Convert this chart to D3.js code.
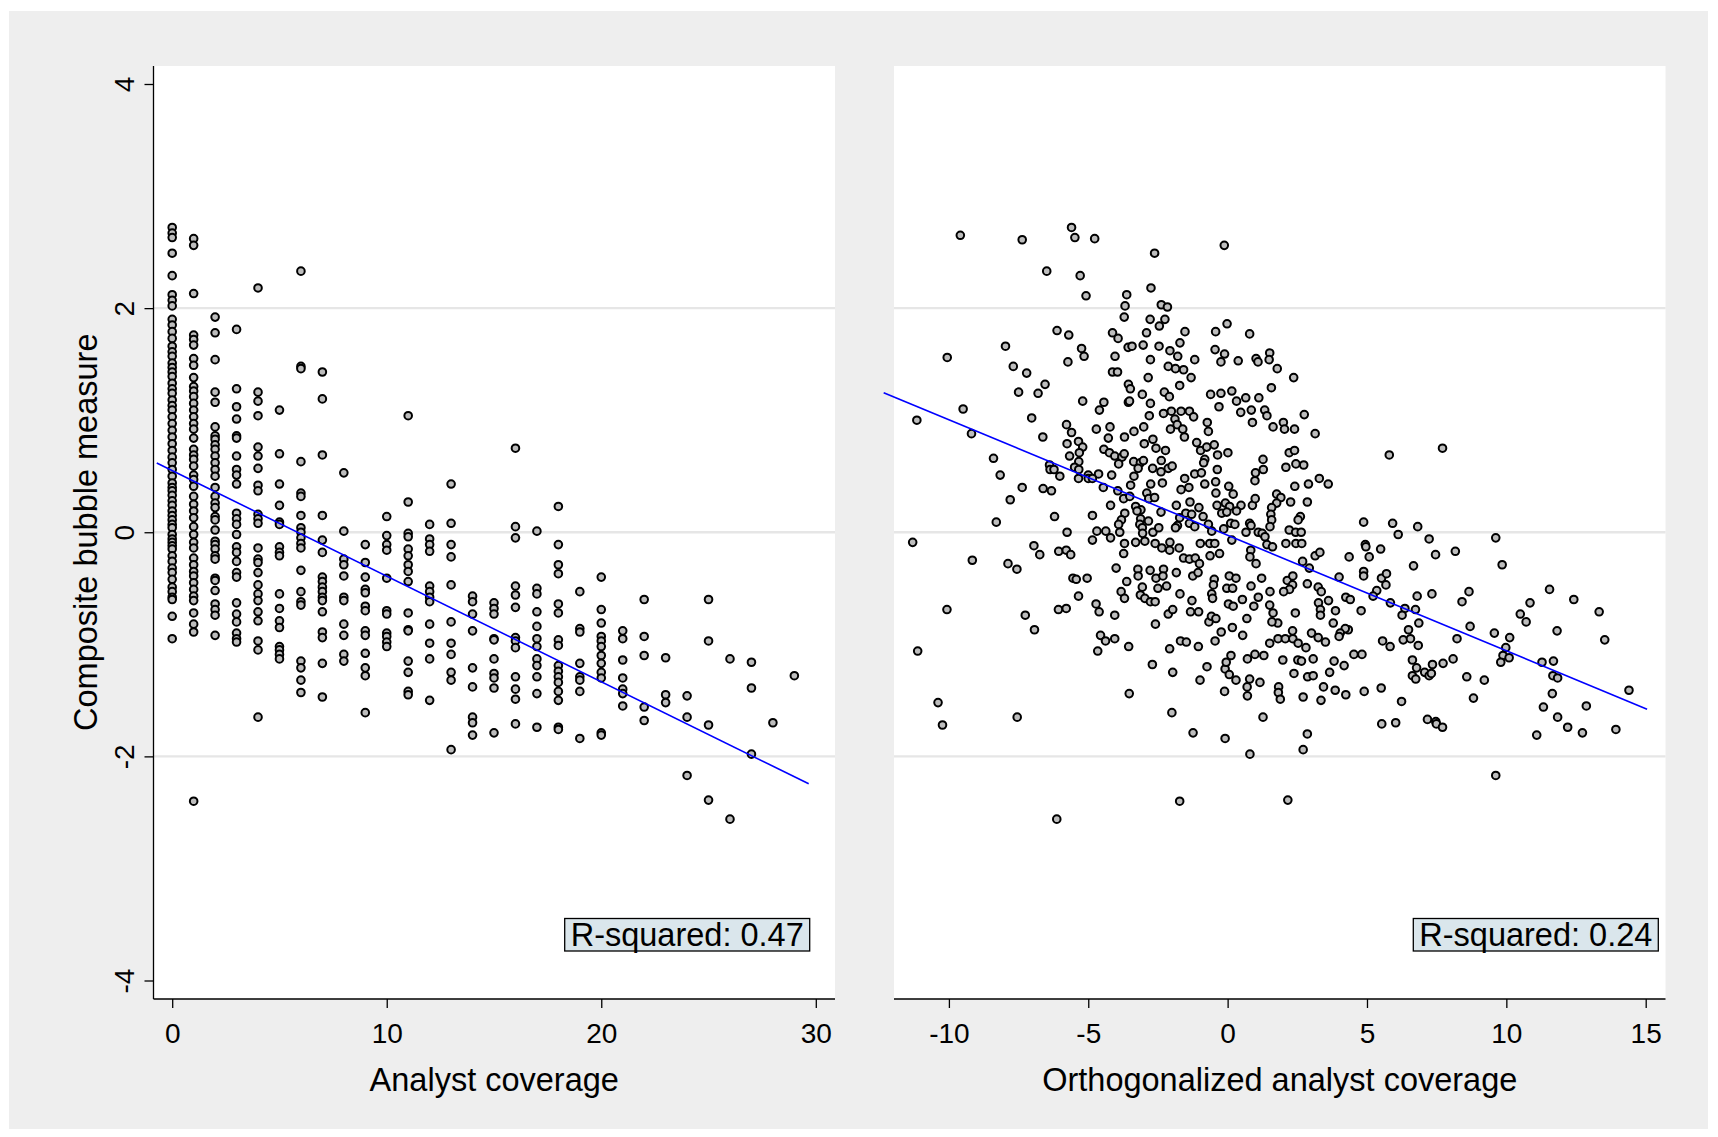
<!DOCTYPE html>
<html>
<head>
<meta charset="utf-8">
<script src="https://cdn.jsdelivr.net/npm/d3@7"></script>
<style>
  body { margin: 0; background: #fff; }
  svg text { font-family: "Liberation Sans", Arial, sans-serif; fill: #000; }
</style>
</head>
<body>
<div id="chart"></div>
<script>
// Left panel: bubble measure for each analyst-coverage count (0..29)
const analystCoverage = [0, 1, 2, 3, 4, 5, 6, 7, 8, 9, 10, 11, 12, 13, 14, 15, 16, 17, 18, 19, 20, 21, 22, 23, 24, 25, 26, 27, 28, 29];
const bubbleByCoverage = [
  [2.72, 2.67, 2.63, 2.49, 2.29, 2.12, 2.07, 2.02, 1.90, 1.85, 1.79, 1.73, 1.66, 1.61, 1.57, 1.51, 1.47, 1.43, 1.39, 1.33, 1.28, 1.24, 1.18, 1.13, 1.09, 1.03, 0.97, 0.91, 0.85, 0.79, 0.73, 0.67, 0.62, 0.56, 0.50, 0.44, 0.40, 0.37, 0.33, 0.28, 0.24, 0.19, 0.15, 0.11, 0.07, 0.04, -0.02, -0.06, -0.09, -0.12, -0.15, -0.21, -0.26, -0.32, -0.36, -0.42, -0.49, -0.53, -0.58, -0.60, -0.75, -0.95],
  [2.62, 2.56, 2.13, 1.76, 1.72, 1.67, 1.55, 1.49, 1.38, 1.30, 1.26, 1.21, 1.15, 1.09, 1.03, 0.97, 0.92, 0.84, 0.74, 0.69, 0.65, 0.59, 0.51, 0.47, 0.41, 0.32, 0.25, 0.19, 0.13, 0.05, -0.02, -0.09, -0.14, -0.23, -0.29, -0.35, -0.39, -0.45, -0.51, -0.57, -0.61, -0.72, -0.82, -0.89, -2.40],
  [1.92, 1.78, 1.54, 1.25, 1.16, 0.94, 0.86, 0.83, 0.78, 0.74, 0.68, 0.62, 0.56, 0.50, 0.40, 0.32, 0.26, 0.22, 0.14, 0.11, 0.02, -0.08, -0.11, -0.15, -0.21, -0.24, -0.41, -0.43, -0.52, -0.64, -0.69, -0.74, -0.92],
  [1.81, 1.28, 1.12, 1.01, 0.86, 0.84, 0.68, 0.56, 0.51, 0.43, 0.17, 0.12, 0.07, -0.02, -0.13, -0.18, -0.26, -0.36, -0.40, -0.63, -0.73, -0.80, -0.90, -0.95, -0.98],
  [2.18, 1.25, 1.17, 1.04, 0.76, 0.68, 0.57, 0.42, 0.37, 0.16, 0.12, 0.08, -0.14, -0.24, -0.27, -0.36, -0.47, -0.55, -0.61, -0.71, -0.79, -0.97, -1.05, -1.65],
  [1.09, 0.70, 0.43, 0.24, 0.09, 0.07, -0.13, -0.18, -0.21, -0.55, -0.68, -0.79, -0.85, -1.02, -1.05, -1.09, -1.13],
  [2.33, 1.48, 1.46, 0.63, 0.35, 0.32, 0.15, 0.04, 0.00, -0.05, -0.10, -0.14, -0.34, -0.53, -0.62, -0.65, -1.15, -1.21, -1.32, -1.43],
  [1.43, 1.19, 0.69, 0.15, -0.07, -0.18, -0.40, -0.44, -0.49, -0.53, -0.58, -0.61, -0.71, -0.89, -0.94, -1.17, -1.47],
  [0.53, 0.01, -0.24, -0.29, -0.39, -0.58, -0.61, -0.82, -0.92, -1.09, -1.15],
  [-0.11, -0.27, -0.40, -0.51, -0.54, -0.66, -0.70, -0.88, -0.92, -1.08, -1.21, -1.28, -1.61],
  [0.14, -0.03, -0.11, -0.16, -0.41, -0.70, -0.73, -0.90, -0.93, -0.98, -1.02],
  [1.04, 0.27, -0.01, -0.04, -0.15, -0.21, -0.29, -0.35, -0.44, -0.72, -0.87, -0.88, -1.15, -1.25, -1.42, -1.45],
  [0.07, -0.06, -0.11, -0.17, -0.48, -0.53, -0.58, -0.62, -0.82, -0.99, -1.13, -1.50],
  [0.43, 0.08, -0.11, -0.22, -0.47, -0.80, -0.99, -1.09, -1.25, -1.32, -1.94],
  [-0.57, -0.62, -0.73, -0.88, -1.21, -1.38, -1.65, -1.70, -1.81],
  [-0.63, -0.68, -0.73, -0.95, -0.96, -1.13, -1.26, -1.30, -1.39, -1.79],
  [0.75, 0.05, -0.05, -0.48, -0.56, -0.67, -0.94, -0.97, -1.03, -1.29, -1.40, -1.49, -1.71],
  [0.01, -0.50, -0.55, -0.71, -0.84, -0.95, -1.02, -1.13, -1.19, -1.29, -1.44, -1.74],
  [0.23, -0.11, -0.29, -0.37, -0.64, -0.72, -0.96, -1.01, -1.19, -1.24, -1.29, -1.34, -1.42, -1.50, -1.74, -1.76],
  [-0.53, -0.86, -0.89, -1.17, -1.29, -1.32, -1.42, -1.84],
  [-0.40, -0.69, -0.81, -0.93, -0.97, -1.02, -1.10, -1.17, -1.25, -1.30, -1.79, -1.81],
  [-0.88, -0.95, -1.14, -1.30, -1.40, -1.44, -1.55],
  [-0.60, -0.93, -1.10, -1.56, -1.68],
  [-1.12, -1.45, -1.52],
  [-1.46, -1.65, -2.17],
  [-0.60, -0.97, -1.72, -2.39],
  [-1.13, -2.56],
  [-1.16, -1.39, -1.98],
  [-1.70],
  [-1.28]
];

// Right panel: [orthogonalized coverage, bubble measure]
const orthoPoints = [
  [-9.59,2.65],[-7.37,2.61],[-5.60,2.72],[-5.48,2.63],[-6.49,2.33],[-5.29,2.29],[-5.08,2.11],[-6.12,1.80],[-5.70,1.76],[-7.97,1.66],[-5.24,1.64],[-5.15,1.57],[-10.06,1.56],[-5.73,1.52],[-7.69,1.48],[-7.21,1.42],[-6.55,1.32],[-7.50,1.25],[-6.80,1.24],[-5.20,1.17],[-9.49,1.10],[-11.15,1.00],[-7.03,1.02],[-5.78,0.96],[-5.60,0.89],[-9.19,0.88],[-6.63,0.85],[-5.35,0.81],[-5.76,0.79],[-5.20,0.76],[-5.32,0.71],[-5.67,0.68],[-5.34,0.63],[-8.40,0.66],[-6.39,0.60],[-5.49,0.58],[-6.37,0.56],[-6.23,0.56],[-5.34,0.56],[-8.16,0.51],[-6.02,0.50],[-5.35,0.48],[-5.00,0.51],[-5.00,0.48],[-7.37,0.40],[-6.62,0.39],[-6.32,0.37],[-7.80,0.29],[-6.21,0.14],[-8.30,0.09],[-5.76,0.00],[-11.30,-0.09],[-6.95,-0.12],[-6.74,-0.20],[-6.06,-0.17],[-5.79,-0.16],[-5.63,-0.20],[-9.16,-0.25],[-7.88,-0.28],[-7.56,-0.33],[-5.55,-0.41],[-5.43,-0.42],[-5.04,-0.41],[-5.35,-0.57],[-10.07,-0.69],[-6.07,-0.69],[-5.79,-0.68],[-7.26,-0.74],[-6.93,-0.87],
  [-11.12,-1.06],[-10.39,-1.52],[-10.23,-1.72],[-7.55,-1.65],[-6.13,-2.56],
  [-4.77,2.62],[-2.62,2.49],[-0.12,2.56],[-2.75,2.18],[-3.62,2.12],[-3.68,2.02],[-2.38,2.03],[-2.16,2.01],[-3.71,1.92],[-2.78,1.90],[-2.25,1.90],[-2.45,1.84],[-1.53,1.79],[-0.43,1.79],[-0.02,1.86],[0.79,1.77],[-4.13,1.78],[-3.93,1.73],[-2.91,1.78],[-3.57,1.65],[-3.43,1.66],[-3.03,1.67],[-2.46,1.66],[-4.04,1.57],[-2.07,1.62],[-1.71,1.69],[-1.79,1.57],[-2.77,1.54],[-0.45,1.63],[-0.11,1.59],[-0.24,1.52],[0.38,1.53],[-1.18,1.54],[1.02,1.55],[1.09,1.52],[1.51,1.60],[1.49,1.54],[1.78,1.46],[-4.13,1.43],[-3.95,1.43],[-2.13,1.48],[-1.87,1.46],[-1.58,1.45],[-2.85,1.38],[-1.31,1.38],[2.37,1.38],[-1.72,1.31],[-3.56,1.32],[-3.49,1.28],[1.57,1.29],[-3.06,1.23],[-2.27,1.25],[-2.09,1.21],[-0.61,1.23],[-0.24,1.24],[0.15,1.26],[0.32,1.17],[0.65,1.20],[-0.31,1.12],[1.12,1.20],[-4.44,1.16],[-4.60,1.09],[-2.77,1.15],[-3.56,1.16],[-3.52,1.17],[-2.81,1.04],[-2.30,1.06],[-2.02,1.08],[-1.67,1.08],[-1.37,1.08],[-1.22,1.03],[-1.89,1.01],[-1.81,0.96],[-2.05,0.92],[-1.61,0.92],[-1.55,0.85],[-0.73,0.98],[-0.69,0.90],[0.47,1.07],[0.85,1.09],[0.89,0.98],[1.33,1.09],[1.41,1.04],[2.00,0.98],[1.63,0.94],[2.04,0.92],[2.40,0.92],[2.75,1.05],[-4.71,0.92],[-4.22,0.94],[-4.28,0.84],[-3.70,0.85],[-3.36,0.90],[-3.01,0.94],[-2.99,0.79],[-2.68,0.83],[-2.57,0.75],[-2.23,0.73],[-1.11,0.80],[-0.97,0.73],[-0.75,0.76],[-0.48,0.78],[0.01,0.71],[-0.36,0.69],[-4.44,0.74],[-4.24,0.71],[-4.05,0.68],[-3.79,0.67],[-3.71,0.70],[-3.91,0.61],[-3.37,0.63],[-3.13,0.62],[-3.02,0.64],[-3.21,0.57],[-2.69,0.57],[-2.38,0.64],[-2.39,0.54],[-2.13,0.57],[-1.99,0.59],[-0.82,0.65],[-0.86,0.62],[-0.37,0.56],[1.27,0.65],[1.28,0.56],[1.00,0.53],[2.21,0.71],[2.40,0.73],[2.09,0.58],[2.45,0.61],[2.73,0.60],[0.98,0.46],[-4.16,0.51],[-4.63,0.52],[-4.85,0.48],[-4.46,0.40],[-3.36,0.50],[-3.48,0.42],[-2.34,0.44],[-2.76,0.43],[-1.54,0.48],[-1.39,0.40],[-1.67,0.38],[-1.18,0.52],[-0.94,0.53],[-0.82,0.43],[-0.43,0.45],[0.04,0.41],[-0.42,0.35],[0.20,0.34],[2.41,0.41],[2.90,0.43],[-3.94,0.37],[-3.73,0.30],[-3.51,0.32],[-4.20,0.24],[-3.30,0.23],[-3.11,0.20],[-2.90,0.35],[-2.83,0.30],[-2.62,0.31],[-1.84,0.24],[-1.35,0.27],[-1.03,0.22],[-0.38,0.24],[-0.08,0.26],[0.07,0.23],[0.48,0.24],[0.89,0.24],[0.99,0.30],[1.76,0.34],[1.91,0.31],[1.76,0.26],[1.58,0.22],[2.26,0.27],[2.86,0.27],[-4.85,0.15],[-3.69,0.17],[-3.25,0.19],[-3.12,0.12],[-2.84,0.10],[-2.39,0.18],[-1.72,0.13],[-1.50,0.17],[-1.29,0.16],[-0.88,0.14],[-1.80,0.06],[-1.37,0.08],[-1.18,0.05],[-0.69,0.07],[-0.21,0.17],[-0.03,0.18],[0.32,0.19],[1.55,0.16],[1.58,0.11],[2.61,0.14],[2.53,0.11],[-3.81,0.11],[-3.91,0.07],[-3.87,0.00],[-3.15,0.07],[-3.06,0.04],[-3.05,-0.01],[-2.68,0.00],[-2.47,0.04],[-1.87,0.04],[-0.57,0.01],[-0.14,0.03],[0.11,0.08],[0.26,0.07],[0.79,0.08],[0.84,0.06],[1.52,0.05],[2.21,0.02],[2.44,0.00],[2.64,0.00],[-4.85,-0.07],[-4.69,0.01],[-4.37,0.01],[-4.20,-0.05],[-3.30,-0.09],[-3.70,-0.10],[-3.73,-0.19],[-2.97,-0.08],[-2.60,-0.10],[-2.36,-0.14],[-2.07,-0.09],[-2.08,-0.16],[-1.74,-0.14],[-0.98,-0.10],[-0.64,-0.10],[-0.46,-0.10],[-0.63,-0.21],[-0.29,-0.19],[0.15,-0.07],[0.66,0.00],[1.10,0.00],[1.24,-0.01],[1.34,-0.04],[1.41,-0.11],[1.61,-0.13],[0.83,-0.16],[0.80,-0.22],[1.02,-0.28],[2.09,-0.10],[2.45,-0.10],[2.66,-0.10],[2.69,-0.26],[2.93,-0.32],[-4.00,-0.32],[-3.62,-0.44],[-3.22,-0.33],[-3.21,-0.39],[-2.78,-0.34],[-2.57,-0.41],[-2.30,-0.33],[-2.32,-0.39],[-2.50,-0.50],[-1.84,-0.36],[-1.58,-0.23],[-1.37,-0.24],[-1.16,-0.23],[-1.01,-0.28],[-1.25,-0.39],[-1.06,-0.36],[-0.48,-0.42],[-0.51,-0.47],[0.06,-0.39],[-0.03,-0.50],[0.30,-0.41],[0.18,-0.50],[0.84,-0.48],[1.22,-0.41],[2.14,-0.43],[2.34,-0.39],[2.33,-0.47],[2.22,-0.51],[2.01,-0.53],[2.86,-0.46],[-3.82,-0.53],[-3.70,-0.59],[-3.06,-0.49],[-3.13,-0.56],[-2.97,-0.59],[-2.77,-0.62],[-2.60,-0.62],[-2.19,-0.48],[-1.71,-0.55],[-0.57,-0.55],[-0.54,-0.59],[0.03,-0.64],[0.20,-0.66],[0.53,-0.60],[1.10,-0.58],[1.52,-0.53],[0.94,-0.66],[-4.72,-0.64],[-4.61,-0.71],[-4.05,-0.74],[-2.59,-0.82],[-2.13,-0.73],[-1.97,-0.69],[-1.33,-0.71],[-1.04,-0.71],[-1.28,-0.61],[-0.67,-0.80],[-0.58,-0.75],[-0.42,-0.77],[0.69,-0.77],[1.51,-0.65],[1.63,-0.72],[1.80,-0.81],[2.43,-0.72],
  [-4.56,-0.92],[-4.38,-0.97],[-4.05,-0.95],[-4.66,-1.06],[-3.55,-1.02],[-1.69,-0.97],[-1.48,-0.98],[-2.08,-1.04],[-1.05,-1.02],[-0.23,-0.89],[0.54,-0.92],[-0.45,-0.97],[-2.70,-1.18],[-1.97,-1.25],[-3.53,-1.44],[-2.00,-1.61],[-1.24,-1.79],[-0.09,-1.84],[0.80,-1.98],[-1.72,-2.40],[2.16,-2.39],[-0.74,-1.20],[-0.09,-1.22],[-0.05,-1.16],[0.12,-1.10],[0.06,-1.27],[0.30,-1.32],[0.71,-1.13],[0.98,-1.09],[1.30,-1.10],[-0.99,-1.32],[-0.11,-1.42],[0.70,-1.38],[0.79,-1.31],[1.16,-1.34],[0.71,-1.46],[1.83,-1.38],[1.82,-1.43],[1.89,-1.49],[1.27,-1.65],[1.51,-0.99],[1.81,-0.95],[2.07,-0.95],[2.33,-0.88],[2.34,-0.95],[2.53,-0.99],[2.81,-1.03],[1.98,-1.14],[2.52,-1.14],[2.65,-1.15],[2.38,-1.26],[2.87,-1.29],[2.71,-1.47],[2.86,-1.80],[2.71,-1.94],[0.17,-0.85],[1.59,-0.80],
  [3.14,0.88],[7.71,0.75],[5.80,0.69],[3.29,0.48],[3.61,0.43],[4.88,0.09],[5.92,0.08],[6.82,0.05],[6.12,-0.02],[7.23,-0.06],[9.62,-0.05],[4.94,-0.11],[4.96,-0.13],[5.08,-0.22],[5.49,-0.15],[7.46,-0.20],[8.17,-0.17],[3.14,-0.21],[3.31,-0.18],[4.36,-0.22],[6.67,-0.30],[9.85,-0.29],[4.00,-0.40],[4.88,-0.35],[4.88,-0.39],[5.52,-0.41],[5.70,-0.37],[5.68,-0.47],[3.25,-0.49],[3.36,-0.53],[4.24,-0.58],[4.40,-0.60],[5.35,-0.52],[5.22,-0.57],[5.84,-0.63],[6.80,-0.57],[7.33,-0.55],[8.66,-0.53],[8.41,-0.62],[11.55,-0.51],[12.42,-0.60],[10.85,-0.63],[13.33,-0.71],[3.26,-0.63],[3.62,-0.61],[3.33,-0.69],[3.33,-0.74],[3.87,-0.70],[4.79,-0.70],[6.36,-0.68],[6.74,-0.69],[6.26,-0.74],[10.50,-0.73],[10.71,-0.80],[3.79,-0.81],[6.86,-0.81],[8.70,-0.84],[6.49,-0.87],[4.33,-0.87],[4.22,-0.86],[4.04,-0.90],[4.00,-0.93],[3.01,-0.90],[3.25,-0.94],[3.51,-0.98],[5.56,-0.97],[5.83,-1.02],[6.30,-0.96],[6.56,-0.95],[6.84,-1.01],[8.23,-0.95],[9.57,-0.90],[10.12,-0.94],[9.98,-1.03],[11.82,-0.88],[13.53,-0.96],[3.07,-1.13],[4.53,-1.09],[4.82,-1.09],[3.82,-1.15],[4.18,-1.19],[6.63,-1.14],[6.78,-1.21],[7.35,-1.18],[7.73,-1.17],[8.09,-1.13],[7.07,-1.25],[7.23,-1.28],[7.31,-1.26],[6.63,-1.28],[6.75,-1.31],[9.88,-1.10],[10.10,-1.12],[9.80,-1.16],[11.28,-1.16],[11.69,-1.15],[11.67,-1.28],[11.84,-1.30],[3.66,-1.25],[3.07,-1.28],[8.58,-1.29],[9.21,-1.32],[3.44,-1.38],[3.86,-1.41],[4.24,-1.45],[4.90,-1.42],[5.51,-1.39],[3.35,-1.50],[6.24,-1.51],[8.82,-1.48],[11.65,-1.44],[11.33,-1.56],[12.87,-1.55],[14.40,-1.41],[7.17,-1.67],[7.47,-1.69],[7.49,-1.71],[7.71,-1.74],[5.53,-1.71],[6.03,-1.70],[11.84,-1.65],[12.20,-1.74],[12.73,-1.79],[13.93,-1.76],[11.09,-1.81],[9.62,-2.17]
];

// Axis ticks
const yTicks = [-4, -2, 0, 2, 4];
const gridTicks = [-2, 0, 2];
const leftXTicks = [0, 10, 20, 30];
const rightXTicks = [-10, -5, 0, 5, 10, 15];

// Fitted lines: [intercept, slope] and x-range they are drawn over
const leftFit = [0.55, -0.0942];
const leftFitRange = [-0.72, 29.67];
const rightFit = [-0.027, -0.1031];
const rightFitRange = [-12.34, 15.05];
const rSquaredLabels = ['R-squared: 0.47', 'R-squared: 0.24'];

const width = 1718, height = 1137;
const plotTop = 66, plotBottom = 999;
const fontFamily = '"Liberation Sans", Arial, sans-serif';
// Stata prints a plain hyphen for negatives
const tickFmt = d => String(d);

const svg = d3.select('#chart').append('svg')
    .attr('width', width)
    .attr('height', height);

// gray graph region
svg.append('rect')
    .attr('x', 9).attr('y', 11)
    .attr('width', 1699).attr('height', 1118)
    .attr('fill', '#eeeeee');

const y = d3.scaleLinear().domain([-4, 4]).range([980.5, 84]);

const leftPoints = [];
analystCoverage.forEach((c, i) => {
    bubbleByCoverage[i].forEach(v => leftPoints.push([c, v]));
});

const panels = [
    {
        left: 153.5, right: 835,
        x: d3.scaleLinear().domain([0, 30]).range([172.2, 815.8]),
        ticks: leftXTicks, title: 'Analyst coverage',
        points: leftPoints, fit: leftFit, fitRange: leftFitRange,
        label: rSquaredLabels[0], boxRight: 809.7, yAxis: true
    },
    {
        left: 894, right: 1665.5,
        x: d3.scaleLinear().domain([-10, 15]).range([948.9, 1645.7]),
        ticks: rightXTicks, title: 'Orthogonalized analyst coverage',
        points: orthoPoints, fit: rightFit, fitRange: rightFitRange,
        label: rSquaredLabels[1], boxRight: 1658.3, yAxis: false
    }
];

panels.forEach(p => {
    const g = svg.append('g');

    // white plot region
    g.append('rect')
        .attr('x', p.left).attr('y', plotTop)
        .attr('width', p.right - p.left).attr('height', plotBottom - plotTop)
        .attr('fill', '#fff');

    // horizontal grid lines
    g.selectAll('.grid')
        .data(gridTicks)
        .enter().append('line')
        .attr('x1', p.left).attr('x2', p.right)
        .attr('y1', d => y(d)).attr('y2', d => y(d))
        .attr('stroke', '#e6e6e6')
        .attr('stroke-width', 2.4);

    // x axis
    const xAxis = g.append('g')
        .attr('transform', `translate(0,${plotBottom})`)
        .call(d3.axisBottom(p.x).tickValues(p.ticks).tickFormat(tickFmt)
            .tickSize(9).tickPadding(15).tickSizeOuter(0));
    xAxis.select('.domain').remove();
    xAxis.selectAll('line').attr('stroke', '#000').attr('stroke-width', 1.3);
    xAxis.selectAll('text')
        .attr('font-size', 28)
        .attr('font-family', fontFamily);
    g.append('line')
        .attr('x1', p.left).attr('x2', p.right)
        .attr('y1', plotBottom).attr('y2', plotBottom)
        .attr('stroke', '#000').attr('stroke-width', 1.3);

    g.append('text')
        .attr('x', (p.left + p.right) / 2)
        .attr('y', 1091)
        .attr('text-anchor', 'middle')
        .attr('font-size', 32.5)
        .text(p.title);

    if (p.yAxis) {
        const yAxis = g.append('g')
            .attr('transform', `translate(${p.left},0)`)
            .call(d3.axisLeft(y).tickValues(yTicks).tickFormat(tickFmt)
                .tickSize(9).tickSizeOuter(0));
        yAxis.select('.domain').remove();
        yAxis.selectAll('line').attr('stroke', '#000').attr('stroke-width', 1.3);
        yAxis.selectAll('text')
            .attr('font-size', 28)
            .attr('font-family', fontFamily)
            .attr('x', 0)
            .attr('y', -19.5)
            .attr('dy', 0)
            .attr('text-anchor', 'middle')
            .attr('transform', 'rotate(-90)');
        g.append('line')
            .attr('x1', p.left).attr('x2', p.left)
            .attr('y1', plotTop).attr('y2', plotBottom)
            .attr('stroke', '#000').attr('stroke-width', 1.3);

        g.append('text')
            .attr('transform', `translate(97,${y(0)}) rotate(-90)`)
            .attr('text-anchor', 'middle')
            .attr('font-size', 32.5)
            .text('Composite bubble measure');
    }

    // scatter points
    g.selectAll('.pt')
        .data(p.points)
        .enter().append('circle')
        .attr('cx', d => p.x(d[0]))
        .attr('cy', d => y(d[1]))
        .attr('r', 3.8)
        .attr('fill', '#bdbdbd')
        .attr('stroke', '#000')
        .attr('stroke-width', 2);

    // fitted line
    const line = d3.line()
        .x(d => p.x(d))
        .y(d => y(p.fit[0] + p.fit[1] * d));
    g.append('path')
        .datum(p.fitRange)
        .attr('d', line)
        .attr('fill', 'none')
        .attr('stroke', '#0000ff')
        .attr('stroke-width', 1.6);

    // R-squared box
    const boxW = 245, boxTop = 918.5, boxH = 32.5;
    g.append('rect')
        .attr('x', p.boxRight - boxW).attr('y', boxTop)
        .attr('width', boxW).attr('height', boxH)
        .attr('fill', '#dae6ec')
        .attr('stroke', '#000')
        .attr('stroke-width', 1.3);
    g.append('text')
        .attr('x', p.boxRight - boxW / 2)
        .attr('y', 946)
        .attr('text-anchor', 'middle')
        .attr('font-size', 32.5)
        .text(p.label);
});
</script>
</body>
</html>
